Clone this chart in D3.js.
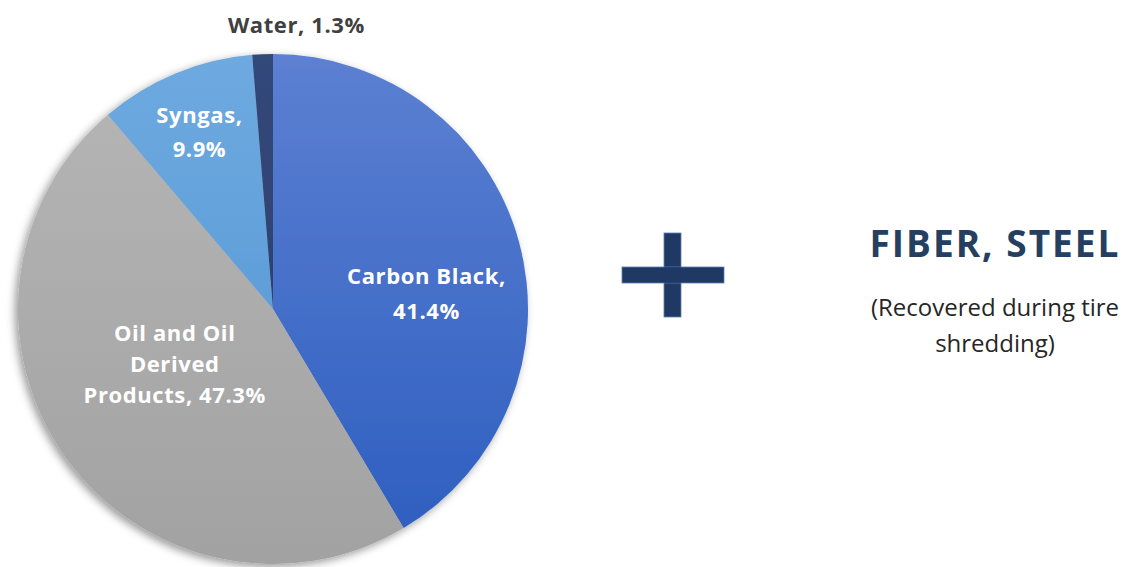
<!DOCTYPE html>
<html>
<head>
<meta charset="utf-8">
<script src="https://cdn.jsdelivr.net/npm/d3@7"></script>
<style>
  body { margin: 0; background: #fff; }
  svg { display: block; font-family: 'Open Sans', sans-serif; }
</style>
</head>
<body>
<div id="chart"></div>
<script>
// 饼图数据
const categories = ['Carbon Black', 'Oil and Oil Derived Products', 'Syngas', 'Water'];
const values = [41.4, 47.3, 9.9, 1.3];
const labelLines = [
  ['Carbon Black,', '41.4%'],
  ['Oil and Oil', 'Derived', 'Products, 47.3%'],
  ['Syngas,', '9.9%'],
  ['Water, 1.3%']
];
const sideTitle = 'FIBER, STEEL';
const sideNote = ['(Recovered during tire', 'shredding)'];

const W = 1130, H = 567;
const cx = 273, cy = 309, R = 255;

const svg = d3.select('#chart').append('svg').attr('width', W).attr('height', H);
const defs = svg.append('defs');

// 阴影
const f = defs.append('filter').attr('id', 'shadow')
  .attr('x', '-10%').attr('y', '-10%').attr('width', '120%').attr('height', '120%');
f.append('feDropShadow').attr('dx', -3).attr('dy', 3).attr('stdDeviation', 4)
  .attr('flood-color', '#000').attr('flood-opacity', 0.4);

// 渐变色
const grads = [
  ['#5c80d2', '#2c5dbf'],
  ['#b6b6b6', '#a2a2a2'],
  ['#6eaae0', '#4f92d2'],
  ['#33487a', '#283c68']
];
grads.forEach(function (g, i) {
  const lg = defs.append('linearGradient').attr('id', 'g' + i)
    .attr('gradientUnits', 'userSpaceOnUse')
    .attr('x1', 0).attr('y1', -R).attr('x2', 0).attr('y2', R);
  lg.append('stop').attr('offset', '0%').attr('stop-color', g[0]);
  lg.append('stop').attr('offset', '100%').attr('stop-color', g[1]);
});

const pie = d3.pie().sort(null).value(function (d) { return d; });
const arc = d3.arc().innerRadius(0).outerRadius(R);
const arcs = pie(values);

const g = svg.append('g').attr('transform', 'translate(' + cx + ',' + cy + ')');
g.append('g').attr('filter', 'url(#shadow)')
  .selectAll('path').data(arcs).enter().append('path')
  .attr('d', arc)
  .attr('fill', function (d, i) { return 'url(#g' + i + ')'; });

// 标签：半径比例 + 微调
const labelR = [0.6, 0.45, 0.753, 1.115];
const nudge = [[6, 25], [-5, -12], [0, 0], [35, 0]];
const lineH = [35, 31, 34, 0];
arcs.forEach(function (d, i) {
  const a = (d.startAngle + d.endAngle) / 2;
  const x = Math.sin(a) * R * labelR[i] + nudge[i][0];
  const y = -Math.cos(a) * R * labelR[i] + nudge[i][1];
  const lines = labelLines[i];
  const t = g.append('text')
    .attr('text-anchor', 'middle')
    .style('font-weight', 700)
    .style('font-size', '22px')
    .style('letter-spacing', '0.6px')
    .attr('fill', i === 3 ? '#404040' : '#fff');
  lines.forEach(function (s, j) {
    t.append('tspan').attr('x', x)
      .attr('y', y + (j - (lines.length - 1) / 2) * lineH[i] + 8)
      .text(s);
  });
});

// 加号
const plus = svg.append('g').attr('fill', '#1f3864').attr('stroke', '#5b7fb5').attr('stroke-width', 0.8);
plus.append('rect').attr('x', 664).attr('y', 233).attr('width', 17).attr('height', 84);
plus.append('rect').attr('x', 622).attr('y', 267).attr('width', 102).attr('height', 16);
plus.append('rect').attr('x', 664.4).attr('y', 267.4).attr('width', 16.2).attr('height', 15.2).attr('stroke', 'none');

// 右侧文字
svg.append('text').attr('x', 995).attr('y', 257)
  .attr('text-anchor', 'middle')
  .style('font-weight', 700).style('font-size', '37px').style('letter-spacing', '2px')
  .attr('fill', '#253f60').text(sideTitle);

const note = svg.append('text').attr('text-anchor', 'middle')
  .style('font-size', '24px').attr('fill', '#262626');
sideNote.forEach(function (s, j) {
  note.append('tspan').attr('x', 995).attr('y', 316 + j * 36).text(s);
});
</script>
</body>
</html>
